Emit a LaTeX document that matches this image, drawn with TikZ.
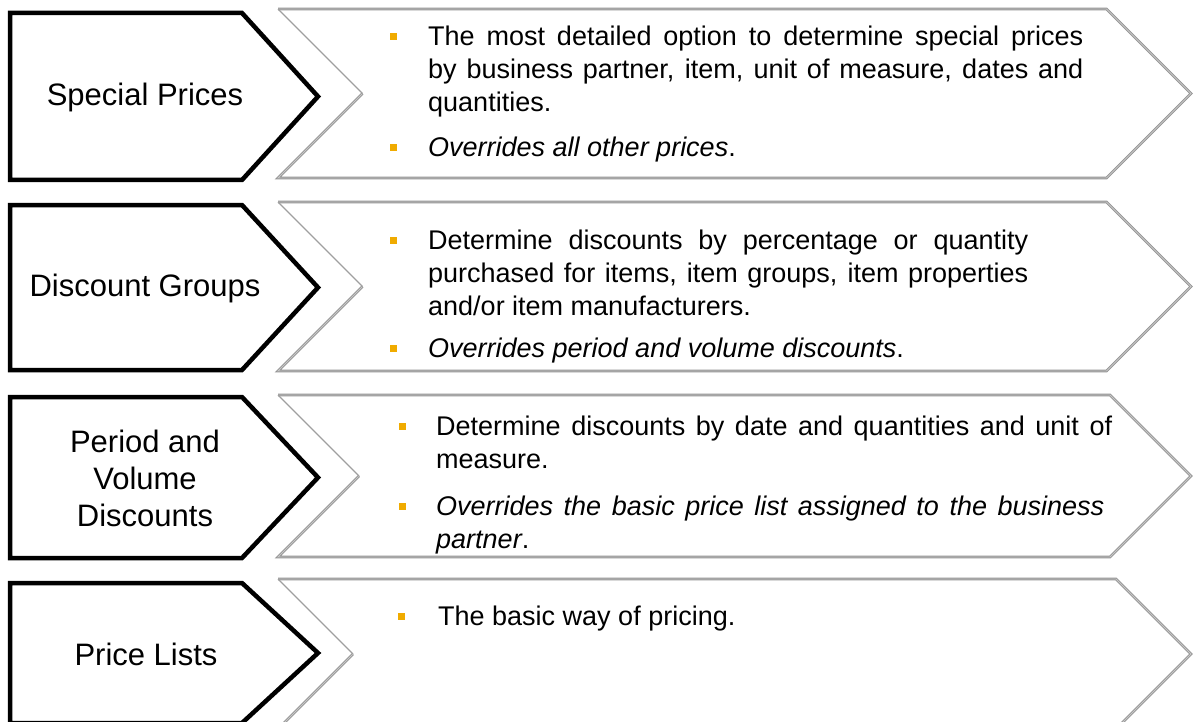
\documentclass[tikz,border=0pt]{standalone}
\usepackage{fontspec}
\setmainfont{Liberation Sans}
\usepackage{tikz}
\usetikzlibrary{calc,positioning}
\definecolor{sapgold}{RGB}{240,171,0}
\tikzset{
  tag/.style={draw=black, line width=4.5pt, fill=white, line join=miter},
  panel/.style={draw=gray!85, double=gray!45, double distance=0.9pt, line width=0.9pt, line join=miter},
  paneledge/.style={draw=gray!75, line width=1.1pt},
  taglabel/.style={font=\fontsize{31}{37}\selectfont, align=center, inner sep=0pt},
  item/.style={font=\fontsize{27}{33}\selectfont, align=justify, anchor=base west, inner sep=0pt},
  dot/.style={fill=sapgold}
}

\begin{document}
\begin{tikzpicture}[x=1pt,y=-1pt]
  \useasboundingbox (0,0) rectangle (1193,722);
  \clip (0,0) rectangle (1193,722);
  % right panels
  \foreach \top/\bot in {9/178,202/371,395/557,579/729}{
    \draw[panel] ({278+(\bot-\top)/2},{(\top+\bot)/2}) -- (278,\bot) -- ({1191-(\bot-\top)/2},\bot)
      -- (1191,{(\top+\bot)/2}) -- ({1191-(\bot-\top)/2},\top) -- (278,\top);
    \draw[paneledge] (278,\top) -- ({278+(\bot-\top)/2},{(\top+\bot)/2});
  }
  % left tags
  \foreach \top/\bot in {13/180,205/370,397/558,583/723}{
    \draw[tag] (10,\top) -- (242,\top) -- (318,{(\top+\bot)/2}) -- (242,\bot) -- (10,\bot) -- cycle;
  }
  \node[taglabel] (special) at (145,97) {Special Prices};
  \node[taglabel] (discount) at (145,288) {Discount Groups};
  \node[taglabel] (period) at (145,478) {Period and\\Volume\\Discounts};
  \node[taglabel] (pricelist) at (146,654) {Price Lists};
  % bullets
  \foreach \x/\y in {393/46,393/157,393/249,393/357,402/435,402/515,401/625}{
    \fill[dot] ({\x-3.5},{\y-12.5}) rectangle ++(7,7);
  }
  \node[item, text width=655] (sp1) at (428,46)
    {The most detailed option to determine special prices\linebreak by business partner, item, unit of measure, dates and\linebreak quantities.};
  \node[item, text width=655] (sp2) at (428,157) {\textit{Overrides all other prices}.};
  \node[item, text width=600] (dg1) at (428,249)
    {Determine discounts by percentage or quantity\linebreak purchased for items, item groups, item properties\linebreak and/or item manufacturers.};
  \node[item, text width=600] (dg2) at (428,357) {\textit{Overrides period and volume discounts}.};
  \node[item, text width=676] (pv1) at (436,435)
    {Determine discounts by date and quantities and unit of\linebreak measure.};
  \node[item, text width=668] (pv2) at (436,515)
    {\textit{Overrides the basic price list assigned to the business\linebreak partner}.};
  \node[item, text width=600] (pl1) at (438,625) {The basic way of pricing.};
\end{tikzpicture}
\end{document}
